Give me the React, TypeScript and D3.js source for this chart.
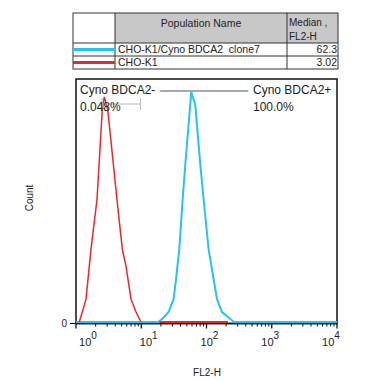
import * as d3 from "d3";
import React, { useEffect, useRef } from "react";

// log10(FL2-H) positions and counts (% of full scale)
const cloneLog = [0, 1.26, 1.318, 1.419, 1.496, 1.533, 1.583, 1.634, 1.675, 1.767, 1.828, 1.905, 1.956, 2.032, 2.109, 2.161, 2.238, 2.365, 2.426, 4];
const cloneCount = [0, 0, 1.2, 4.1, 9.4, 17.6, 30, 50.4, 64.8, 94.7, 89.3, 64.8, 50.4, 30, 17.6, 9.4, 4.1, 1.2, 0, 0];

const parentLog = [0.05, 0.097, 0.153, 0.204, 0.23, 0.322, 0.403, 0.434, 0.487, 0.628, 0.71, 0.766, 0.843, 0.92, 0.996];
const parentCount = [0, 4.1, 9.4, 23, 30, 50.4, 87.3, 92.6, 87.3, 50.4, 30, 23, 9.4, 4.1, 0];
// flat zero stretch of CHO-K1 drawn over the clone baseline
const parentTailLog = [1.28, 2.33];

const seriesNames = ["CHO-K1/Cyno BDCA2  clone7", "CHO-K1"];
const medians = ["62.3", "3.02"];
const seriesColors = ["#27c3ee", "#e8282e"];
const decades = [0, 1, 2, 3, 4];

const W = 365;
const H = 381;

const App: React.FC = () => {
  const svgRef = useRef<SVGSVGElement>(null);

  useEffect(() => {
    if (!svgRef.current) return;
    const svg = d3.select(svgRef.current);
    svg.selectAll("*").remove();
    svg.style("font-family", "'Liberation Sans', Arial, sans-serif");

    const plot = { left: 76, right: 337, top: 79, bottom: 323.5 };
    const x = d3.scaleLinear().domain([0, 4]).range([plot.left, plot.right]);
    const y = d3.scaleLinear().domain([0, 100]).range([322, 79]);

    // ---- table ----
    const cols = [73, 115, 287, 338];
    const rows = [13, 43, 56, 69];
    const tbl = svg.append("g");
    tbl.append("rect")
      .attr("x", cols[1]).attr("y", rows[0])
      .attr("width", cols[3] - cols[1]).attr("height", rows[1] - rows[0])
      .attr("fill", "#c8c8c8");
    tbl.append("rect")
      .attr("x", cols[0]).attr("y", rows[0])
      .attr("width", cols[3] - cols[0]).attr("height", rows[3] - rows[0])
      .attr("fill", "none").attr("stroke", "#333").attr("stroke-width", 1);
    rows.slice(1, 3).forEach((r) => {
      tbl.append("line").attr("x1", cols[0]).attr("x2", cols[3])
        .attr("y1", r).attr("y2", r).attr("stroke", "#333");
    });
    cols.slice(1, 3).forEach((c) => {
      tbl.append("line").attr("x1", c).attr("x2", c)
        .attr("y1", rows[0]).attr("y2", rows[3]).attr("stroke", "#333");
    });
    tbl.append("text").attr("x", (cols[1] + cols[2]) / 2).attr("y", 27)
      .attr("text-anchor", "middle").style("font-size", "10.5px").attr("fill", "#222")
      .text("Population Name");
    tbl.append("text").attr("x", cols[2] + 2).attr("y", 26)
      .style("font-size", "10px").attr("fill", "#222").text("Median ,");
    tbl.append("text").attr("x", cols[2] + 2).attr("y", 40)
      .style("font-size", "10px").attr("fill", "#222").text("FL2-H");
    seriesNames.forEach((name, i) => {
      const mid = (rows[i + 1] + rows[i + 2]) / 2;
      tbl.append("line").attr("x1", cols[0]).attr("x2", cols[1])
        .attr("y1", mid).attr("y2", mid)
        .attr("stroke", seriesColors[i]).attr("stroke-width", 3);
      tbl.append("text").attr("x", cols[1] + 3).attr("y", mid + 3.8)
        .style("font-size", "10.5px").style("white-space", "pre").attr("fill", "#222")
        .text(name);
      tbl.append("text").attr("x", cols[3] - 1).attr("y", mid + 3.8)
        .attr("text-anchor", "end").style("font-size", "10.5px").attr("fill", "#222")
        .text(medians[i]);
    });

    // ---- frame ----
    svg.append("rect")
      .attr("x", plot.left).attr("y", plot.top)
      .attr("width", plot.right - plot.left).attr("height", plot.bottom - plot.top)
      .attr("fill", "none").attr("stroke", "#111").attr("stroke-width", 1.5);
    svg.append("line").attr("x1", plot.left).attr("x2", plot.right)
      .attr("y1", plot.bottom).attr("y2", plot.bottom)
      .attr("stroke", "#111").attr("stroke-width", 1.5);

    // ---- histograms ----
    const line = d3.line<[number, number]>()
      .x((d) => x(d[0]))
      .y((d) => y(d[1]))
      .curve(d3.curveLinear);

    const clone: [number, number][] = cloneLog.map((v, i) => [v, cloneCount[i]]);
    const parent: [number, number][] = parentLog.map((v, i) => [v, parentCount[i]]);
    const tail: [number, number][] = parentTailLog.map((v) => [v, 0]);

    svg.append("path").attr("d", line(clone)).attr("fill", "none")
      .attr("stroke", seriesColors[0]).attr("stroke-width", 2);
    svg.append("path").attr("d", line(tail)).attr("fill", "none")
      .attr("stroke", seriesColors[1]).attr("stroke-width", 2.2);
    svg.append("path").attr("d", line(parent)).attr("fill", "none")
      .attr("stroke", seriesColors[1]).attr("stroke-width", 1.5);

    // ---- x axis ticks ----
    const ax = svg.append("g");
    decades.forEach((k) => {
      ax.append("line").attr("x1", x(k)).attr("x2", x(k))
        .attr("y1", plot.bottom).attr("y2", plot.bottom + 5)
        .attr("stroke", "#111").attr("stroke-width", 1.3);
      if (k < 4) {
        d3.range(2, 10).forEach((m) => {
          const v = k + Math.log10(m);
          ax.append("line").attr("x1", x(v)).attr("x2", x(v))
            .attr("y1", plot.bottom).attr("y2", plot.bottom + 3)
            .attr("stroke", "#111").attr("stroke-width", 1);
        });
      }
    });
    const labelX = d3.scaleLinear().domain([0, 4]).range([x(0) + 12, x(4) - 6]);
    decades.forEach((k) => {
      const t = ax.append("text").attr("x", labelX(k)).attr("y", 346)
        .attr("text-anchor", "middle").style("font-size", "11px").attr("fill", "#222");
      t.append("tspan").text("10");
      t.append("tspan").attr("dy", -7).style("font-size", "10px").text(String(k));
    });
    svg.append("text").attr("x", 207).attr("y", 376)
      .attr("text-anchor", "middle").style("font-size", "10px").attr("fill", "#222")
      .text("FL2-H");

    // ---- y axis ----
    svg.append("line").attr("x1", plot.left - 6).attr("x2", plot.left)
      .attr("y1", plot.bottom).attr("y2", plot.bottom).attr("stroke", "#111");
    svg.append("text").attr("x", plot.left - 9).attr("y", plot.bottom + 3)
      .attr("text-anchor", "end").style("font-size", "10px").attr("fill", "#222")
      .text("0");
    svg.append("text")
      .attr("transform", `translate(33,198) rotate(-90)`)
      .attr("text-anchor", "middle").style("font-size", "10px").attr("fill", "#222")
      .text("Count");

    // ---- gates ----
    svg.append("line").attr("x1", x(1.29)).attr("x2", x(2.64))
      .attr("y1", 91).attr("y2", 91).attr("stroke", "#555").attr("stroke-width", 1.2);
    svg.append("line").attr("x1", x(0.4)).attr("x2", x(0.99))
      .attr("y1", 104).attr("y2", 104).attr("stroke", "#bbb").attr("stroke-width", 1);
    [0.4, 0.99].forEach((v) => {
      svg.append("line").attr("x1", x(v)).attr("x2", x(v))
        .attr("y1", 98).attr("y2", 110).attr("stroke", "#bbb").attr("stroke-width", 1);
    });
    const gateText = [
      { t: "Cyno BDCA2-", xx: 80, yy: 94 },
      { t: "0.048%", xx: 80, yy: 111 },
      { t: "Cyno BDCA2+", xx: 253, yy: 94 },
      { t: "100.0%", xx: 253, yy: 111 },
    ];
    gateText.forEach((g) => {
      svg.append("text").attr("x", g.xx).attr("y", g.yy)
        .style("font-size", "12px").attr("fill", "#222").text(g.t);
    });
  }, []);

  return (
    <svg
      ref={svgRef}
      width={W}
      height={H}
      style={{ position: "absolute", left: 0, top: 0, background: "#fff" }}
    />
  );
};

export default App;
